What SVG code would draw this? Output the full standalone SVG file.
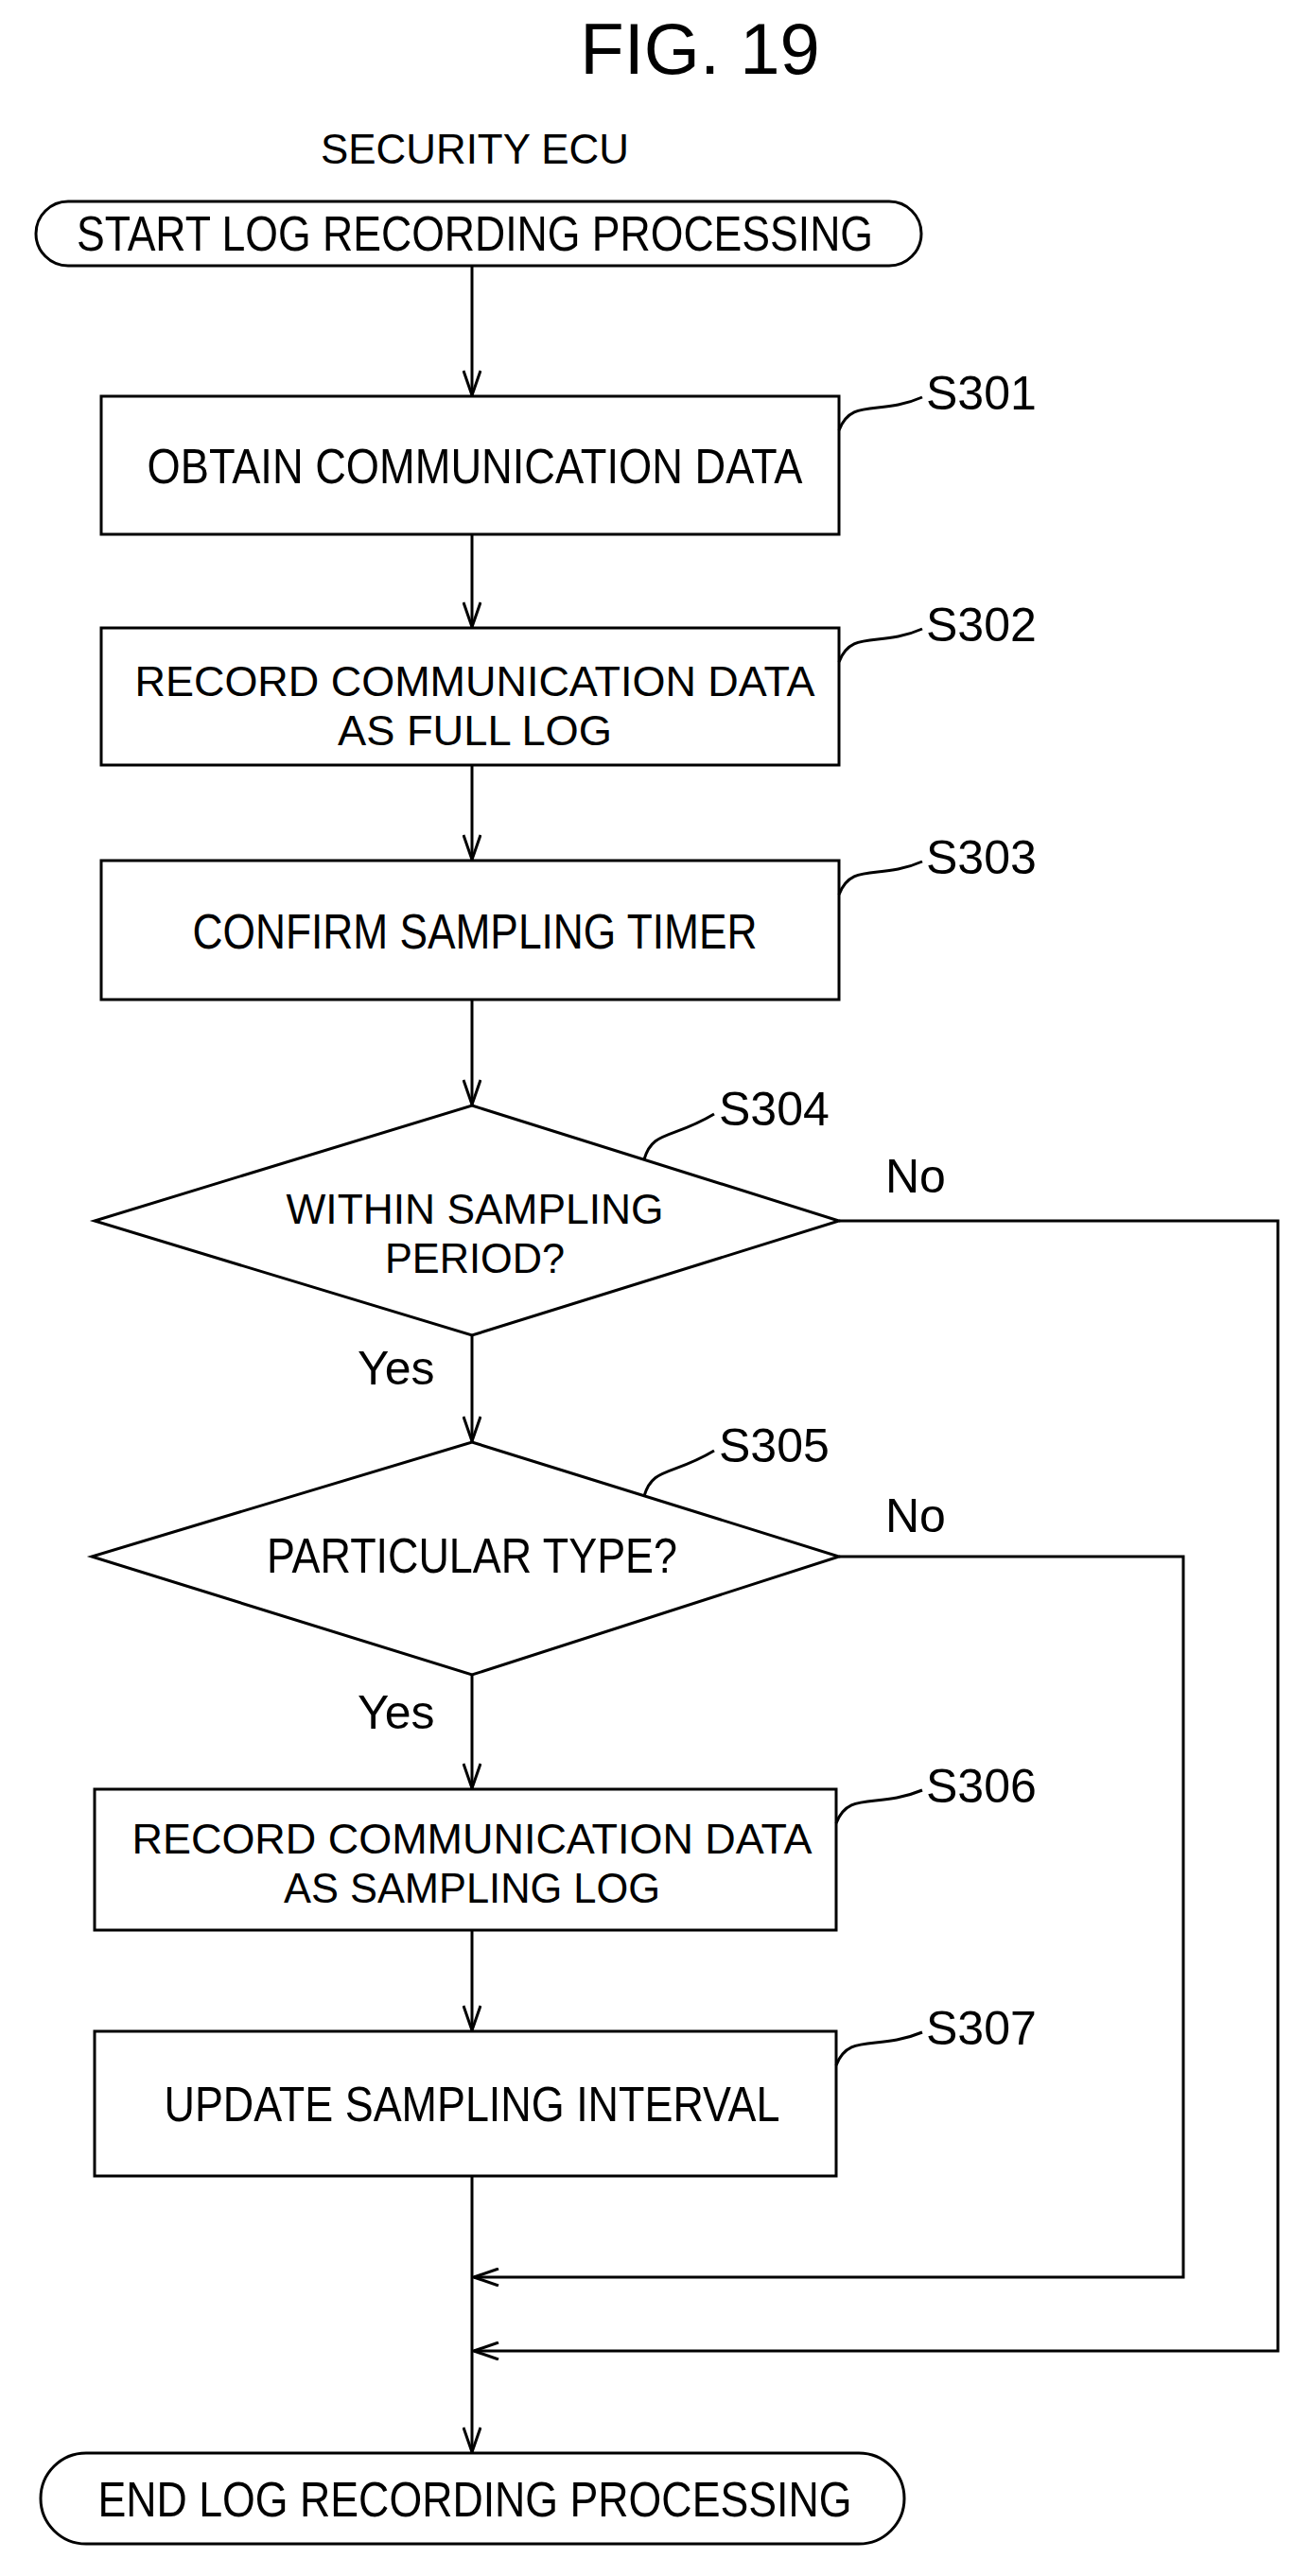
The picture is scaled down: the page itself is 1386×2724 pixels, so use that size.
<svg xmlns="http://www.w3.org/2000/svg" width="1386" height="2724" viewBox="0 0 1386 2724">
<style>
text{font-family:"Liberation Sans",Arial,sans-serif;fill:#000;}
.t{font-size:52px;text-anchor:middle;}
.m{font-size:45px;text-anchor:middle;}
.l{font-size:50px;}
.s{fill:none;stroke:#000;stroke-width:3;}
</style>
<defs>
<marker id="a" markerWidth="30" markerHeight="20" refX="28" refY="10" orient="auto" markerUnits="userSpaceOnUse" viewBox="0 0 30 20">
<path d="M2,1 L28,10 L2,19" fill="none" stroke="#000" stroke-width="3"/>
</marker>
</defs>
<rect width="1386" height="2724" fill="#fff"/>
<text x="740" y="78" style="font-size:76px;text-anchor:middle">FIG. 19</text>
<text x="502" y="173" style="font-size:44px;text-anchor:middle" textLength="326" lengthAdjust="spacingAndGlyphs">SECURITY ECU</text>
<g id="start"><rect class="s" x="38" y="213" width="936" height="68" rx="34"/><text class="t" x="502" y="265" textLength="842" lengthAdjust="spacingAndGlyphs">START LOG RECORDING PROCESSING</text></g>
<g id="s301"><rect class="s" x="107" y="419" width="780" height="146"/><text class="t" x="502" y="511" textLength="693" lengthAdjust="spacingAndGlyphs">OBTAIN COMMUNICATION DATA</text><path class="s" d="M887,455 C900,420 930,440 975,420"/><text class="l" x="979" y="433">S301</text></g>
<g id="s302"><rect class="s" x="107" y="664" width="780" height="145"/><text class="m" x="502" y="736" textLength="719" lengthAdjust="spacingAndGlyphs">RECORD COMMUNICATION DATA</text><text class="m" x="502" y="788" textLength="290" lengthAdjust="spacingAndGlyphs">AS FULL LOG</text><path class="s" d="M887,700 C900,665 930,685 975,665"/><text class="l" x="979" y="678">S302</text></g>
<g id="s303"><rect class="s" x="107" y="910" width="780" height="147"/><text class="t" x="502" y="1003" textLength="597" lengthAdjust="spacingAndGlyphs">CONFIRM SAMPLING TIMER</text><path class="s" d="M887,946 C900,911 930,931 975,911"/><text class="l" x="979" y="924">S303</text></g>
<g id="s304"><polygon class="s" points="499,1169 887,1291 499,1412 100,1291"/><text class="m" x="502" y="1294" textLength="399" lengthAdjust="spacingAndGlyphs">WITHIN SAMPLING</text><text class="m" x="502" y="1346" textLength="190" lengthAdjust="spacingAndGlyphs">PERIOD?</text><path class="s" d="M681,1226 C690,1195 710,1205 755,1178"/><text class="l" x="760" y="1190">S304</text></g>
<g id="s305"><polygon class="s" points="499,1525 887,1646 499,1771 97,1646"/><text class="t" x="499" y="1663" textLength="434" lengthAdjust="spacingAndGlyphs">PARTICULAR TYPE?</text><path class="s" d="M681,1582 C690,1551 710,1561 755,1534"/><text class="l" x="760" y="1546">S305</text></g>
<g id="s306"><rect class="s" x="100" y="1892" width="784" height="149"/><text class="m" x="499" y="1960" textLength="719" lengthAdjust="spacingAndGlyphs">RECORD COMMUNICATION DATA</text><text class="m" x="499" y="2012" textLength="398" lengthAdjust="spacingAndGlyphs">AS SAMPLING LOG</text><path class="s" d="M884,1928 C897,1893 927,1913 975,1893"/><text class="l" x="979" y="1906">S306</text></g>
<g id="s307"><rect class="s" x="100" y="2148" width="784" height="153"/><text class="t" x="499" y="2243" textLength="651" lengthAdjust="spacingAndGlyphs">UPDATE SAMPLING INTERVAL</text><path class="s" d="M884,2184 C897,2149 927,2169 975,2149"/><text class="l" x="979" y="2162">S307</text></g>
<g id="end"><rect class="s" x="43" y="2594" width="913" height="96" rx="48"/><text class="t" x="502" y="2661" textLength="797" lengthAdjust="spacingAndGlyphs">END LOG RECORDING PROCESSING</text></g>
<g id="connectors" class="s">
<line class="s" x1="499" y1="281" x2="499" y2="418" marker-end="url(#a)"/>
<line class="s" x1="499" y1="565" x2="499" y2="663" marker-end="url(#a)"/>
<line class="s" x1="499" y1="809" x2="499" y2="909" marker-end="url(#a)"/>
<line class="s" x1="499" y1="1057" x2="499" y2="1168" marker-end="url(#a)"/>
<line class="s" x1="499" y1="1412" x2="499" y2="1524" marker-end="url(#a)"/>
<line class="s" x1="499" y1="1771" x2="499" y2="1891" marker-end="url(#a)"/>
<line class="s" x1="499" y1="2041" x2="499" y2="2147" marker-end="url(#a)"/>
<line class="s" x1="499" y1="2301" x2="499" y2="2593" marker-end="url(#a)"/>
<polyline class="s" points="887,1291 1351,1291 1351,2486 501,2486" marker-end="url(#a)"/>
<polyline class="s" points="887,1646 1251,1646 1251,2408 501,2408" marker-end="url(#a)"/>
</g>
<text class="l" x="936" y="1261">No</text>
<text class="l" x="936" y="1620">No</text>
<text class="l" x="378" y="1464">Yes</text>
<text class="l" x="378" y="1828">Yes</text>
</svg>
